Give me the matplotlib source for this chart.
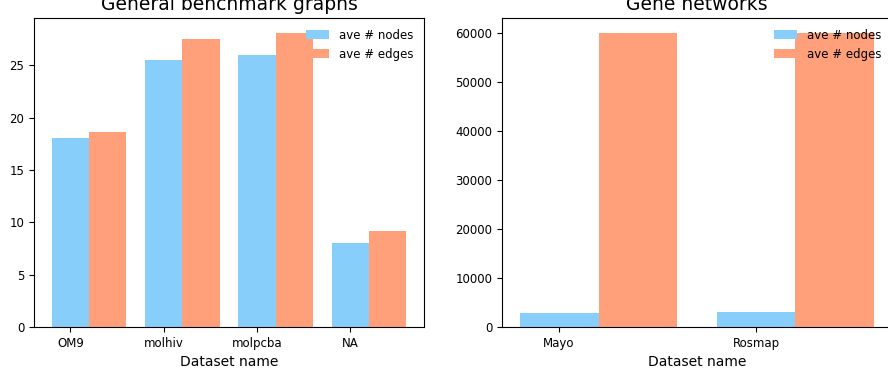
import numpy as np
import matplotlib
matplotlib.use('Agg')
import matplotlib.pyplot as plt

# data
bench_names = ['OM9', 'molhiv', 'molpcba', 'NA']
bench_nodes = [18.0, 25.5, 26.0, 8.0]
bench_edges = [18.6, 27.5, 28.1, 9.2]

gene_names = ['Mayo', 'Rosmap']
gene_nodes = [2950, 3100]
gene_edges = [60000, 60000]

width = 0.4
c_nodes = '#87CEFA'
c_edges = '#FFA07A'

fig = plt.figure(figsize=(8.88, 3.72), dpi=100)
ax1 = fig.add_axes([34/888, 1 - 327/372, 390/888, 309/372])
# right panel runs slightly past the figure edge, as in the original
ax2 = fig.add_axes([502/888, 1 - 327/372, 390/888, 309/372])

for ax, names, nodes, edges, title in [
        (ax1, bench_names, bench_nodes, bench_edges, 'General benchmark graphs'),
        (ax2, gene_names, gene_nodes, gene_edges, 'Gene networks')]:
    x = np.arange(len(names))
    ax.bar(x, nodes, width, color=c_nodes, label='ave # nodes', linewidth=0)
    ax.bar(x + width, edges, width, color=c_edges, label='ave # edges', linewidth=0)
    ax.set_xticks(x)
    ax.set_xticklabels(names, fontsize=8.5)
    ax.tick_params(axis='y', labelsize=8.5)
    ax.set_xlabel('Dataset name', fontsize=10)
    ax.set_title(title, fontsize=13.5)
    ax.legend(loc='upper right', frameon=False, fontsize=8.5)

fig.savefig('out.png', dpi=100)
